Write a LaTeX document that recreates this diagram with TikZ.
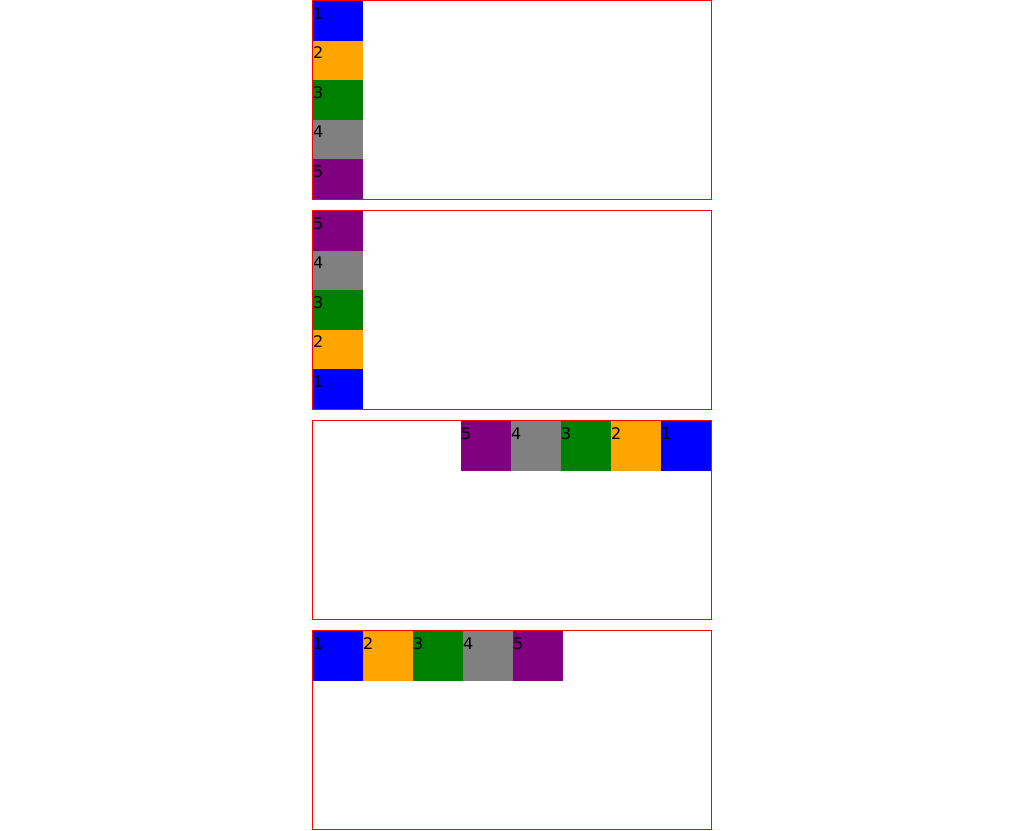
\documentclass[tikz,border=0pt]{standalone}
\usepackage{fontspec}
\setmainfont{DejaVu Sans}
\definecolor{cblue}{RGB}{0,0,255}
\definecolor{corange}{RGB}{255,165,0}
\definecolor{cgreen}{RGB}{0,128,0}
\definecolor{cgray}{RGB}{128,128,128}
\definecolor{cpurple}{RGB}{128,0,128}
\definecolor{cred}{RGB}{255,0,0}
\begin{document}
\begin{tikzpicture}[x=1pt,y=-1pt,
  frame/.style={draw=cred,line width=1pt,fill=none},
  item/.style={draw=none,inner sep=0pt,outer sep=0pt,anchor=north west,minimum width=50pt},
  num/.style={inner sep=0pt,outer sep=0pt,anchor=base west,font=\fontsize{16pt}{16pt}\selectfont,text=black}]
\useasboundingbox (0,0) rectangle (1024,830);
\fill[white] (0,0) rectangle (1024,830);
% frames
\foreach \t/\n in {0/f1,210/f2,420/f3,630/f4}{
  \node[frame,inner sep=0pt,outer sep=0pt,minimum width=399pt,minimum height=199pt,anchor=north west] (\n) at (312.5,\t+0.5) {};
}
% box 1: column
\foreach \i/\c in {1/cblue,2/corange,3/cgreen,4/cgray,5/cpurple}{
  \node[item,fill=\c,minimum height=39.6pt] (a\i) at (313,{1+(\i-1)*39.6}) {};
  \node[num] (ta\i) at ([shift={(0,18)}]a\i.north west) {\i};
}
% box 2: column-reverse
\foreach \i/\c in {1/cblue,2/corange,3/cgreen,4/cgray,5/cpurple}{
  \node[item,fill=\c,minimum height=39.6pt] (b\i) at (313,{211+(5-\i)*39.6}) {};
  \node[num] (tb\i) at ([shift={(0,18)}]b\i.north west) {\i};
}
% box 3: row-reverse
\foreach \i/\c in {1/cblue,2/corange,3/cgreen,4/cgray,5/cpurple}{
  \node[item,fill=\c,minimum height=50pt] (c\i) at ({661-(\i-1)*50},421) {};
  \node[num] (tc\i) at ([shift={(0,18)}]c\i.north west) {\i};
}
% box 4: row
\foreach \i/\c in {1/cblue,2/corange,3/cgreen,4/cgray,5/cpurple}{
  \node[item,fill=\c,minimum height=50pt] (d\i) at ({313+(\i-1)*50},631) {};
  \node[num] (td\i) at ([shift={(0,18)}]d\i.north west) {\i};
}
\end{tikzpicture}
\end{document}
